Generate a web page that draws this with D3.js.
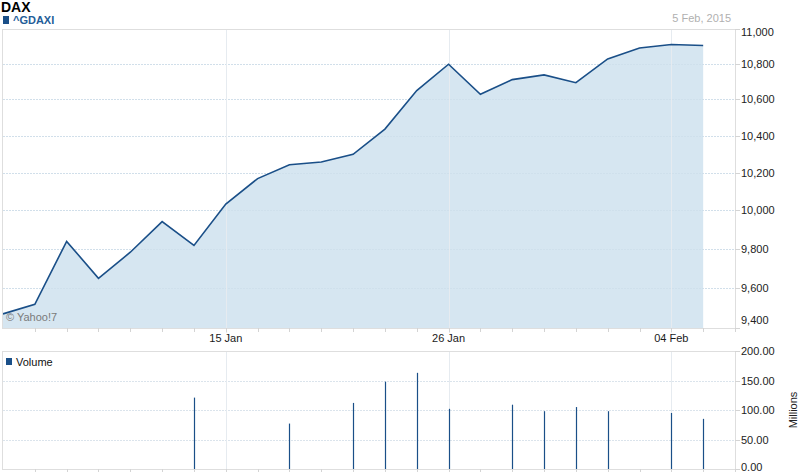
<!DOCTYPE html>
<html>
<head>
<meta charset="utf-8">
<script src="https://cdn.jsdelivr.net/npm/d3@7"></script>
<style>
  html, body { margin: 0; padding: 0; background: #fff; }
  svg { display: block; font-family: "Liberation Sans", Arial, sans-serif; }
</style>
</head>
<body>
<svg id="chart" width="800" height="475"></svg>
<script>
// ---- data ----
const dates = ["06 Jan","07 Jan","08 Jan","09 Jan","12 Jan","13 Jan","14 Jan","15 Jan","16 Jan",
  "19 Jan","20 Jan","21 Jan","22 Jan","23 Jan","26 Jan","27 Jan","28 Jan","29 Jan","30 Jan",
  "02 Feb","03 Feb","04 Feb","05 Feb"];
const closes = [9470, 9518, 9838, 9649, 9782, 9941, 9817, 10033, 10168,
  10242, 10257, 10299, 10436, 10650, 10798, 10629, 10711, 10738, 10694,
  10828, 10891, 10911, 10905];
const volumes = [null, null, null, null, null, null, 121, null, null,
  77, null, 112, 148, 163, 102, null, 109, 98, 105,
  98, null, 95, 85];
const xLabels = ["15 Jan", "26 Jan", "04 Feb"];
const priceTicks = [9400, 9600, 9800, 10000, 10200, 10400, 10600, 10800, 11000];
const volumeTicks = [0, 50, 100, 150, 200];

// ---- layout ----
const svg = d3.select("#chart");
const left = 3, right = 735;
const mainTop = 29, mainBottom = 328;
const volTop = 351, volBottom = 469;
const lineColor = "#1a4f88";
const fillColor = "#d6e6f1";
const frameColor = "#dedede";
const gridColor = "#dbe4ec";

const x = d3.scaleLinear().domain([0, dates.length]).range([left, right]);
const y = d3.scaleLog().domain([9400, 11000]).range([mainBottom, mainTop]);
const yv = d3.scaleLinear().domain([0, 200]).range([volBottom, volTop]);

// Title & legend
svg.append("text").attr("x", 1).attr("y", 12).attr("font-size", 14).attr("font-weight", "bold")
  .attr("fill", "#000").text("DAX");
svg.append("rect").attr("x", 3).attr("y", 16).attr("width", 6).attr("height", 8).attr("fill", lineColor);
svg.append("text").attr("x", 13).attr("y", 24).attr("font-size", 11).attr("font-weight", "bold")
  .attr("fill", "#245d98").text("^GDAXI");
svg.append("text").attr("x", 731).attr("y", 22).attr("font-size", 11).attr("text-anchor", "end")
  .attr("fill", "#b0b0b0").text("5 Feb, 2015");

// ---- main panel ----
const main = svg.append("g");
const innerTicks = priceTicks.filter(t => t > 9400 && t < 11000);
main.selectAll("line.hg").data(innerTicks).join("line")
  .attr("x1", left).attr("x2", right).attr("y1", d => Math.round(y(d)) + 0.5).attr("y2", d => Math.round(y(d)) + 0.5)
  .attr("stroke", gridColor).attr("stroke-dasharray", "2,1");

// area + line
const idx = d3.range(closes.length);
const area = d3.area().x(i => x(i)).y0(mainBottom).y1(i => y(closes[i]));
const line = d3.line().x(i => x(i)).y(i => y(closes[i]));
main.append("path").datum(idx).attr("d", area).attr("fill", fillColor);

main.selectAll("line.hg2").data(innerTicks).join("line")
  .attr("x1", left).attr("x2", right).attr("y1", d => Math.round(y(d)) + 0.5).attr("y2", d => Math.round(y(d)) + 0.5)
  .attr("stroke", "#c8d9e8").attr("stroke-opacity", 0.5).attr("stroke-dasharray", "2,1");

// vertical grid at labelled dates
const labelIdx = xLabels.map(l => dates.indexOf(l));
main.selectAll("line.vg").data(labelIdx).join("line")
  .attr("x1", d => Math.round(x(d)) + 0.5).attr("x2", d => Math.round(x(d)) + 0.5)
  .attr("y1", mainTop).attr("y2", mainBottom + 5)
  .attr("stroke", "#e6ebf0");

main.append("path").datum(idx).attr("d", line).attr("fill", "none")
  .attr("stroke", lineColor).attr("stroke-width", 1.6).attr("stroke-linejoin", "miter");

// frame
main.append("rect").attr("x", left - 0.5).attr("y", mainTop + 0.5).attr("width", right - left + 1)
  .attr("height", mainBottom - mainTop).attr("fill", "none").attr("stroke", frameColor);

// x ticks
main.selectAll("line.xt").data(d3.range(1, dates.length + 1)).join("line")
  .attr("x1", d => Math.round(x(d)) + 0.5).attr("x2", d => Math.round(x(d)) + 0.5)
  .attr("y1", mainBottom).attr("y2", mainBottom + 4).attr("stroke", "#d4d4d4");

main.selectAll("text.xl").data(labelIdx).join("text")
  .attr("x", d => x(d)).attr("y", mainBottom + 14).attr("text-anchor", "middle")
  .attr("font-size", 11).attr("fill", "#1a1a1a").text(d => dates[d]);

// right price axis
const fmt = d3.format(",");
main.selectAll("line.yt").data(priceTicks).join("line")
  .attr("x1", right).attr("x2", right + 5).attr("y1", d => Math.round(y(d)) + 0.5).attr("y2", d => Math.round(y(d)) + 0.5)
  .attr("stroke", "#d4d4d4");
main.selectAll("text.yl").data(priceTicks).join("text")
  .attr("x", right + 6)
  .attr("y", d => d === 11000 ? y(d) + 7 : (d === 9400 ? y(d) - 4 : y(d) + 4))
  .attr("font-size", 11).attr("fill", "#222").text(d => fmt(d));

main.append("text").attr("x", 6).attr("y", 321).attr("font-size", 11).attr("fill", "#7a7a7a")
  .text("© Yahoo!7");

// ---- volume panel ----
const vol = svg.append("g");
vol.selectAll("line.vhg").data(volumeTicks.filter(t => t > 0 && t < 200)).join("line")
  .attr("x1", left).attr("x2", right).attr("y1", d => Math.round(yv(d)) + 0.5).attr("y2", d => Math.round(yv(d)) + 0.5)
  .attr("stroke", gridColor).attr("stroke-dasharray", "2,1");
vol.selectAll("line.vvg").data(labelIdx).join("line")
  .attr("x1", d => Math.round(x(d)) + 0.5).attr("x2", d => Math.round(x(d)) + 0.5)
  .attr("y1", volTop).attr("y2", volBottom)
  .attr("stroke", "#e6ebf0");
vol.append("rect").attr("x", left - 0.5).attr("y", volTop + 0.5).attr("width", right - left + 1)
  .attr("height", volBottom - volTop).attr("fill", "none").attr("stroke", frameColor);

vol.selectAll("line.bar").data(idx.filter(i => volumes[i] != null)).join("line")
  .attr("x1", i => Math.round(x(i)) + 0.5).attr("x2", i => Math.round(x(i)) + 0.5)
  .attr("y1", yv(0)).attr("y2", i => yv(volumes[i]))
  .attr("stroke", lineColor).attr("stroke-width", 1.2);

vol.selectAll("line.vxt").data(d3.range(1, dates.length + 1)).join("line")
  .attr("x1", d => Math.round(x(d)) + 0.5).attr("x2", d => Math.round(x(d)) + 0.5)
  .attr("y1", volBottom).attr("y2", volBottom + 3).attr("stroke", "#d4d4d4");

vol.selectAll("line.vyt").data(volumeTicks).join("line")
  .attr("x1", right).attr("x2", right + 5).attr("y1", d => Math.round(yv(d)) + 0.5).attr("y2", d => Math.round(yv(d)) + 0.5)
  .attr("stroke", "#d4d4d4");
vol.selectAll("text.vyl").data(volumeTicks).join("text")
  .attr("x", right + 6)
  .attr("y", d => d === 0 ? yv(d) + 2 : yv(d) + 4)
  .attr("font-size", 11).attr("fill", "#222").text(d => d3.format(".2f")(d));

vol.append("text").attr("transform", "translate(797,410) rotate(-90)").attr("text-anchor", "middle")
  .attr("font-size", 11).attr("fill", "#222").text("Millions");

vol.append("rect").attr("x", 6).attr("y", 358).attr("width", 6).attr("height", 7).attr("fill", lineColor);
vol.append("text").attr("x", 16).attr("y", 366).attr("font-size", 11).attr("fill", "#111").text("Volume");
</script>
</body>
</html>
